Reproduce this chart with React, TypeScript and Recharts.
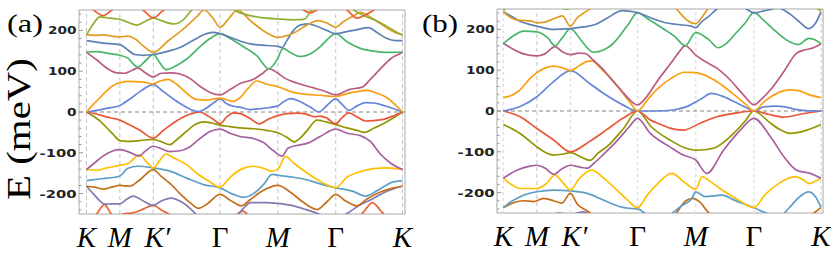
import React from 'react';
import { LineChart, Line, XAxis, YAxis, ReferenceLine, ReferenceArea } from 'recharts';

type Pt = [number, number];

// k-path positions of the high-symmetry points (path length, |ΓK| = 1)
const kTicks = [0, 0.5, 1, 2, 2.866, 3.732, 4.732];
const kLabels = ['K', 'M', 'K′', 'Γ', 'M', 'Γ', 'K'];
const eTicks = [-240, -220, -200, -180, -160, -140, -120, -100, -80, -60, -40, -20, 0, 20, 40, 60, 80, 100, 120, 140, 160, 180, 200, 220, 240];

// Mathematica default palette, band n uses palette[(n - 1) % 15]
const palette = ['#5E81B5', '#E19C24', '#8FB032', '#EB6235', '#8778B3', '#C56E1A', '#5D9EC7', '#FFBF00', '#A5609D', '#929600', '#E95536', '#6685D9', '#F89F13', '#BC5B80', '#47B66B'];

// ---- panel (a) bands, [k, E (meV)] ----
const a4: Pt[] = [[0, -275], [0.15, -250], [0.27, -227], [0.38, -252], [0.45, -258], [0.55, -250], [0.7, -247], [0.85, -238], [1.0, -229], [1.12, -240], [1.25, -252], [1.4, -270], [1.7, -285], [2.1, -270], [2.2, -258], [2.34, -243], [2.45, -258], [2.7, -285], [3.5, -290], [4.0, -270], [4.15, -245], [4.28, -222], [4.42, -245], [4.55, -265], [4.732, -275]];
const a5: Pt[] = [[0, -182], [0.1, -200], [0.2, -218], [0.27, -226], [0.38, -225], [0.5, -225], [0.6, -214], [0.7, -206], [0.85, -218], [1.0, -229], [1.12, -218], [1.27, -211], [1.42, -220], [1.55, -236], [1.65, -252], [1.8, -268], [2.1, -272], [2.25, -255], [2.35, -236], [2.46, -222], [2.7, -222], [2.866, -224], [3.1, -230], [3.3, -240], [3.48, -250], [3.62, -262], [3.75, -262], [3.9, -249], [4.05, -232], [4.28, -213], [4.45, -198], [4.6, -188], [4.732, -182]];
const a6: Pt[] = [[0, -182], [0.12, -184], [0.25, -189], [0.38, -184], [0.5, -180], [0.65, -182], [0.8, -166], [1.0, -141], [1.12, -158], [1.25, -175], [1.4, -200], [1.55, -222], [1.68, -236], [1.8, -226], [2.0, -202], [2.15, -216], [2.32, -230], [2.45, -215], [2.65, -192], [2.866, -180], [3.05, -196], [3.25, -222], [3.45, -239], [3.6, -220], [3.732, -202], [3.88, -218], [4.05, -230], [4.2, -213], [4.4, -196], [4.6, -186], [4.732, -182]];
const a7: Pt[] = [[0, -168], [0.25, -163], [0.42, -160], [0.5, -157], [0.62, -138], [0.77, -133], [1.0, -137], [1.25, -145], [1.5, -162], [1.75, -178], [2.0, -186], [2.2, -202], [2.36, -209], [2.5, -200], [2.65, -178], [2.78, -153], [2.9, -156], [3.1, -160], [3.3, -166], [3.5, -176], [3.732, -186], [3.98, -194], [4.18, -206], [4.38, -190], [4.58, -172], [4.732, -168]];
const a8: Pt[] = [[0, -141], [0.15, -143], [0.3, -137], [0.5, -131], [0.64, -125], [0.79, -105], [0.9, -122], [1.0, -137], [1.1, -118], [1.19, -103], [1.3, -112], [1.5, -129], [1.65, -150], [1.82, -168], [2.0, -184], [2.15, -160], [2.32, -140], [2.49, -133], [2.65, -138], [2.76, -145], [2.866, -140], [2.98, -109], [3.1, -125], [3.3, -149], [3.5, -170], [3.732, -185], [3.9, -160], [4.1, -146], [4.3, -139], [4.5, -137], [4.732, -141]];
const a9: Pt[] = [[0, -141], [0.12, -125], [0.25, -108], [0.4, -95], [0.5, -92], [0.62, -97], [0.79, -108], [0.88, -96], [1.0, -84], [1.12, -90], [1.25, -97], [1.4, -95], [1.55, -85], [1.7, -65], [1.85, -48], [2.0, -42], [2.15, -52], [2.3, -60], [2.5, -65], [2.65, -75], [2.8, -95], [2.93, -108], [3.02, -88], [3.15, -82], [3.3, -77], [3.5, -60], [3.732, -42], [3.9, -52], [4.1, -58], [4.25, -72], [4.4, -103], [4.55, -125], [4.732, -141]];
const a10: Pt[] = [[0, 0], [0.1, -10], [0.2, -22], [0.3, -38], [0.4, -55], [0.5, -70], [0.62, -72], [0.8, -70], [1.0, -67], [1.12, -73], [1.25, -80], [1.35, -68], [1.5, -47], [1.62, -31], [1.75, -24], [1.88, -27], [2.0, -32], [2.15, -36], [2.3, -39], [2.5, -41], [2.7, -45], [2.866, -51], [3.0, -62], [3.11, -73], [3.2, -64], [3.32, -42], [3.45, -20], [3.6, -25], [3.732, -31], [3.9, -39], [4.05, -45], [4.16, -50], [4.3, -40], [4.45, -28], [4.6, -14], [4.732, 0]];
const a11: Pt[] = [[0, 0], [0.15, -5], [0.3, -12], [0.5, -20], [0.65, -32], [0.8, -45], [1.0, -64], [1.15, -45], [1.3, -27], [1.45, -12], [1.6, -3], [1.7, 0], [1.8, -8], [1.9, -18], [2.0, -29], [2.1, -12], [2.2, -2], [2.3, -4], [2.44, -15], [2.59, -29], [2.72, -18], [2.866, -9], [3.0, -4], [3.15, -3], [3.3, -6], [3.42, -12], [3.5, -10], [3.6, -15], [3.732, -29], [3.82, -15], [3.93, -2], [4.05, -12], [4.18, -22], [4.3, -21], [4.45, -18], [4.6, -9], [4.732, 0]];
const a12: Pt[] = [[0, 0], [0.15, 4], [0.3, 9], [0.5, 16], [0.65, 32], [0.8, 50], [1.0, 67], [1.15, 50], [1.3, 32], [1.45, 16], [1.58, 5], [1.68, 1], [1.8, 10], [1.9, 22], [2.0, 32], [2.1, 20], [2.2, 14], [2.3, 12], [2.44, 6], [2.6, 8], [2.75, 11], [2.866, 15], [2.95, 25], [3.06, 33], [3.2, 25], [3.35, 12], [3.48, 0], [3.6, 16], [3.732, 32], [3.82, 20], [3.93, 4], [4.05, 15], [4.18, 23], [4.3, 22], [4.45, 16], [4.6, 8], [4.732, 0]];
const a13: Pt[] = [[0, 0], [0.1, 18], [0.2, 35], [0.3, 52], [0.4, 65], [0.5, 72], [0.65, 75], [0.85, 73], [1.0, 69], [1.1, 76], [1.22, 80], [1.35, 68], [1.5, 46], [1.64, 31], [1.79, 29], [1.9, 32], [2.0, 34], [2.1, 30], [2.2, 26], [2.3, 35], [2.42, 58], [2.55, 76], [2.7, 68], [2.866, 62], [3.1, 48], [3.3, 43], [3.5, 41], [3.732, 38], [3.9, 45], [4.05, 50], [4.2, 53], [4.35, 46], [4.5, 35], [4.62, 18], [4.732, 0]];
const a14: Pt[] = [[0, 146], [0.15, 128], [0.3, 108], [0.45, 96], [0.57, 95], [0.67, 101], [0.77, 108], [0.88, 96], [1.0, 86], [1.12, 95], [1.27, 96], [1.4, 93], [1.55, 82], [1.7, 63], [1.85, 48], [2.0, 42], [2.15, 55], [2.3, 70], [2.5, 80], [2.64, 95], [2.73, 106], [2.866, 95], [2.97, 83], [3.15, 71], [3.4, 59], [3.55, 52], [3.732, 42], [3.93, 55], [4.13, 61], [4.25, 80], [4.39, 104], [4.55, 130], [4.732, 146]];
const a15: Pt[] = [[0, 147], [0.15, 148], [0.35, 143], [0.5, 139], [0.62, 132], [0.7, 118], [0.77, 110], [0.88, 125], [1.0, 141], [1.1, 120], [1.19, 104], [1.35, 114], [1.5, 130], [1.7, 160], [1.85, 180], [2.0, 192], [2.15, 180], [2.35, 160], [2.55, 138], [2.73, 106], [2.866, 132], [2.94, 156], [3.05, 146], [3.2, 136], [3.35, 142], [3.5, 160], [3.62, 180], [3.732, 192], [3.9, 172], [4.1, 156], [4.3, 149], [4.5, 146], [4.732, 147]];
const a16: Pt[] = [[0, 175], [0.25, 169], [0.5, 165], [0.62, 152], [0.72, 141], [0.85, 139], [1.0, 141], [1.2, 148], [1.4, 158], [1.6, 176], [1.8, 192], [1.9, 195], [2.0, 192], [2.2, 180], [2.45, 167], [2.7, 163], [2.866, 161], [2.93, 158], [3.0, 175], [3.1, 200], [3.2, 213], [3.33, 216], [3.45, 210], [3.6, 200], [3.732, 192], [3.9, 197], [4.05, 202], [4.22, 207], [4.35, 195], [4.5, 180], [4.62, 175], [4.732, 175]];
const a17: Pt[] = [[0, 189], [0.12, 188], [0.25, 189], [0.38, 186], [0.5, 184], [0.62, 186], [0.72, 180], [0.85, 162], [1.0, 146], [1.22, 174], [1.47, 206], [1.66, 235], [1.76, 250], [1.89, 231], [2.0, 208], [2.14, 231], [2.26, 250], [2.46, 223], [2.66, 198], [2.866, 183], [3.11, 194], [3.31, 214], [3.46, 224], [3.6, 218], [3.732, 208], [3.85, 222], [4.0, 236], [4.1, 244], [4.2, 238], [4.35, 222], [4.5, 206], [4.62, 195], [4.732, 189]];
const a18: Pt[] = [[0, 189], [0.1, 215], [0.2, 233], [0.3, 231], [0.42, 229], [0.5, 227], [0.62, 220], [0.75, 213], [0.88, 222], [1.0, 230], [1.12, 224], [1.3, 216], [1.45, 226], [1.55, 245], [1.65, 265], [1.85, 285], [2.0, 290], [2.1, 270], [2.21, 251], [2.4, 238], [2.6, 232], [2.866, 228], [3.1, 226], [3.26, 227], [3.35, 245], [3.45, 262], [3.7, 275], [3.95, 255], [4.1, 240], [4.35, 223], [4.55, 205], [4.65, 195], [4.732, 189]];
const a19: Pt[] = [[0, 268], [0.12, 248], [0.25, 236], [0.38, 250], [0.5, 265], [0.75, 262], [0.88, 245], [1.0, 231], [1.12, 245], [1.25, 262], [1.5, 280], [3.0, 275], [3.2, 255], [3.35, 243], [3.5, 255], [3.7, 268], [3.9, 250], [4.05, 230], [4.2, 240], [4.35, 255], [4.6, 275]];

// ---- panel (b) bands ----
const b5: Pt[] = [[0, -262], [0.4, -270], [0.7, -262], [0.82, -250], [0.92, -253], [1.0, -255], [1.1, -250], [1.2, -247], [1.3, -255], [1.45, -270]];
const b6: Pt[] = [[0, -237], [0.15, -225], [0.3, -220], [0.45, -222], [0.6, -214], [0.75, -220], [0.87, -226], [1.0, -202], [1.1, -228], [1.25, -245], [1.4, -262], [2.0, -280], [2.5, -265], [2.62, -240], [2.72, -220], [2.82, -214], [2.92, -222], [3.05, -248], [3.2, -270], [4.4, -270], [4.58, -255], [4.732, -237]];
const b7: Pt[] = [[0, -237], [0.12, -222], [0.25, -210], [0.5, -198], [0.75, -194], [1.0, -196], [1.25, -202], [1.5, -219], [1.75, -235], [1.9, -239], [2.0, -240], [2.15, -255], [2.35, -268], [2.51, -251], [2.66, -232], [2.81, -214], [2.866, -198], [3.01, -210], [3.26, -206], [3.45, -219], [3.732, -237], [4.0, -255], [4.12, -258], [4.25, -239], [4.4, -212], [4.55, -198], [4.65, -210], [4.732, -236]];
const b8: Pt[] = [[0, -165], [0.12, -180], [0.25, -190], [0.5, -190], [0.64, -178], [0.77, -157], [0.9, -178], [1.0, -194], [1.12, -168], [1.32, -145], [1.5, -165], [1.7, -195], [1.85, -218], [2.0, -237], [2.15, -205], [2.3, -178], [2.51, -153], [2.7, -175], [2.866, -192], [2.96, -161], [3.1, -175], [3.3, -198], [3.5, -218], [3.732, -237], [3.9, -205], [4.1, -178], [4.35, -161], [4.48, -170], [4.56, -178], [4.65, -172], [4.732, -165]];
const b9: Pt[] = [[0, -165], [0.2, -145], [0.4, -135], [0.5, -133], [0.62, -140], [0.75, -155], [0.87, -142], [1.0, -133], [1.15, -138], [1.25, -140], [1.35, -128], [1.5, -105], [1.7, -72], [1.88, -38], [2.0, -18], [2.19, -55], [2.48, -88], [2.68, -108], [2.866, -120], [3.03, -153], [3.28, -96], [3.53, -47], [3.732, -18], [3.98, -63], [4.18, -112], [4.37, -145], [4.57, -153], [4.732, -165]];
const b10: Pt[] = [[0, -33], [0.25, -55], [0.5, -88], [0.62, -101], [0.75, -108], [0.88, -106], [1.0, -102], [1.15, -112], [1.29, -121], [1.42, -102], [1.54, -88], [1.79, -43], [2.0, 0], [2.2, -38], [2.48, -71], [2.7, -90], [2.866, -96], [3.0, -95], [3.18, -88], [3.43, -55], [3.6, -25], [3.732, 0], [3.98, -30], [4.15, -48], [4.28, -55], [4.52, -47], [4.732, -33]];
const b11: Pt[] = [[0, 0], [0.25, -14], [0.5, -43], [0.75, -71], [1.0, -100], [1.28, -75], [1.53, -47], [1.78, -18], [2.0, 0], [2.19, -22], [2.33, -32], [2.48, -42], [2.68, -47], [2.93, -30], [3.18, -14], [3.43, -6], [3.732, 0], [3.95, -8], [4.18, -15], [4.42, -8], [4.732, 0]];
const b12: Pt[] = [[0, 0], [0.25, 11], [0.5, 35], [0.75, 72], [1.0, 99], [1.28, 68], [1.53, 39], [1.78, 15], [2.0, 0], [2.3, 0], [2.55, 3], [2.75, 12], [2.95, 30], [3.1, 43], [3.25, 37], [3.45, 22], [3.6, 10], [3.732, 0], [3.88, 10], [4.05, 12], [4.2, 10], [4.35, 4], [4.5, 1], [4.732, 0]];
const b13: Pt[] = [[0, 33], [0.12, 38], [0.25, 52], [0.4, 80], [0.5, 94], [0.62, 105], [0.75, 110], [0.88, 106], [1.0, 99], [1.12, 110], [1.24, 121], [1.32, 123], [1.45, 105], [1.6, 80], [1.75, 50], [1.9, 18], [2.0, 0], [2.15, 28], [2.3, 55], [2.5, 80], [2.7, 95], [2.866, 94], [3.0, 88], [3.2, 70], [3.4, 45], [3.6, 18], [3.732, 0], [3.9, 25], [4.1, 45], [4.25, 52], [4.4, 50], [4.55, 40], [4.732, 33]];
const b14: Pt[] = [[0, 166], [0.14, 152], [0.3, 140], [0.5, 135], [0.62, 140], [0.77, 158], [0.88, 145], [1.0, 138], [1.12, 142], [1.22, 141], [1.32, 128], [1.45, 108], [1.6, 80], [1.75, 52], [1.88, 28], [2.0, 15], [2.12, 32], [2.3, 75], [2.5, 118], [2.62, 145], [2.71, 160], [2.866, 137], [3.0, 122], [3.18, 105], [3.38, 76], [3.58, 39], [3.732, 15], [3.85, 30], [3.98, 52], [4.18, 97], [4.37, 142], [4.5, 150], [4.62, 155], [4.732, 165]];
const b15: Pt[] = [[0, 165], [0.14, 183], [0.3, 196], [0.5, 194], [0.67, 178], [0.77, 160], [0.88, 180], [1.0, 202], [1.17, 171], [1.34, 144], [1.5, 150], [1.62, 163], [1.86, 212], [2.0, 241], [2.15, 226], [2.36, 204], [2.55, 183], [2.71, 160], [2.866, 192], [3.06, 175], [3.2, 155], [3.32, 165], [3.45, 188], [3.6, 215], [3.732, 241], [3.88, 222], [4.0, 204], [4.25, 171], [4.4, 163], [4.55, 178], [4.62, 176], [4.732, 165]];
const b16: Pt[] = [[0, 243], [0.12, 232], [0.25, 220], [0.5, 208], [0.75, 200], [1.0, 202], [1.2, 206], [1.37, 212], [1.55, 228], [1.77, 246], [1.9, 244], [2.0, 241], [2.2, 228], [2.4, 217], [2.6, 212], [2.8, 208], [2.866, 204], [2.95, 218], [3.06, 232], [3.2, 252], [3.4, 262], [3.6, 252], [3.732, 241], [3.9, 246], [4.1, 252], [4.25, 240], [4.4, 220], [4.55, 202], [4.65, 215], [4.732, 243]];
const b17: Pt[] = [[0, 243], [0.12, 228], [0.25, 222], [0.4, 221], [0.5, 216], [0.62, 218], [0.75, 226], [0.88, 233], [1.0, 208], [1.1, 228], [1.17, 237], [1.32, 253], [1.5, 270], [2.3, 275], [2.56, 253], [2.7, 228], [2.76, 220], [2.866, 214], [2.95, 228], [3.06, 253], [3.2, 275], [4.4, 275], [4.6, 260], [4.732, 245]];
const b18: Pt[] = [[0, 247], [0.15, 262], [0.5, 272], [0.8, 260], [0.92, 250], [1.0, 252], [1.1, 262], [1.3, 275], [4.4, 275], [4.6, 258], [4.732, 247]];

const bandsA: [number, Pt[]][] = [[4, a4], [5, a5], [6, a6], [7, a7], [8, a8], [9, a9], [10, a10], [11, a11], [12, a12], [13, a13], [14, a14], [15, a15], [16, a16], [17, a17], [18, a18], [19, a19]];
const bandsB: [number, Pt[]][] = [[5, b5], [6, b6], [7, b7], [8, b8], [9, b9], [10, b10], [11, b11], [12, b12], [13, b13], [14, b14], [15, b15], [16, b16], [17, b17], [18, b18]];

const YTick = ({ x, y, payload }: any) => {
  const v = payload.value;
  const major = v % 100 === 0;
  const s = String(v);
  const w = s.replace('-', '').length * 9.5 + (v < 0 ? 8.5 : 0);
  return (
    <g>
      <line x1={x} x2={x + (major ? 4 : 2.5)} y1={y} y2={y} stroke="#9a9a9a" strokeWidth={1} />
      {major && (
        <text x={x - 2.5} y={y + 4} textAnchor="end" fontFamily="DejaVu Sans" fontWeight="bold" fontSize={11} fill="#222"
          textLength={w} lengthAdjust="spacingAndGlyphs">{s}</text>
      )}
    </g>
  );
};

const XTick = ({ x, y, payload }: any) => {
  const i = kTicks.indexOf(payload.value);
  const lab = kLabels[i];
  return (
    <text x={x + (lab === 'K′' ? 4 : 0)} y={y + 33} textAnchor="middle" fontFamily="Liberation Serif" fontSize={29}
      fontStyle={lab === 'Γ' ? 'normal' : 'italic'} fill="#000">{lab}</text>
  );
};

function Panel({ bands, domain, top, left, yw, right, darkM }: { bands: [number, Pt[]][]; domain: [number, number]; top: number; left: number; yw: number; right: number; darkM: boolean }) {
  return (
    <div style={{ position: 'absolute', left, top: 0 }}>
      <LineChart width={yw + 326 + right} height={254} margin={{ top, right, bottom: 0, left: 0 }}>
        <XAxis type="number" dataKey="k" domain={domain} allowDataOverflow ticks={kTicks} interval={0}
          tick={XTick} tickSize={0} tickMargin={0} axisLine={false} tickLine={false} height={254 - top - 204} />
        <YAxis type="number" domain={[-250, 250]} allowDataOverflow ticks={eTicks} interval={0}
          tick={YTick} tickSize={0} tickMargin={0} axisLine={false} tickLine={false} width={yw} />
        {kTicks.map((k, i) => {
          const strong = !darkM || i === 1;
          return (
            <ReferenceLine key={'g' + i} x={k} stroke={strong ? '#c4c4c4' : '#e2e2e2'}
              strokeWidth={strong ? 1 : 1.6} strokeDasharray={strong ? '4 3' : '3 3'} />
          );
        })}
        <ReferenceLine y={0} stroke="#777" strokeDasharray="4 3" strokeWidth={0.9} />
        {bands.map(([n, pts]) => (
          <Line key={n} data={pts.map(([k, e]) => ({ k, e }))} dataKey="e" type="monotone" stroke={palette[(n - 1) % 15]}
            strokeWidth={1.7} dot={false} activeDot={false} isAnimationActive={false} />
        ))}
        <ReferenceArea x1={domain[0]} x2={domain[1]} y1={-250} y2={250} fill="none" fillOpacity={0} stroke="#a8a8a8" strokeWidth={1} />
      </LineChart>
    </div>
  );
}

export default function App() {
  return (
    <div style={{ position: 'absolute', left: 0, top: 0, width: 831, height: 254, background: '#fff', overflow: 'hidden' }}>
      <Panel bands={bandsA} domain={[-0.112, 4.769]} top={10} left={0} yw={79} right={9} darkM={false} />
      <Panel bands={bandsB} domain={[-0.094, 4.762]} top={9} left={415} yw={82} right={8} darkM={true} />
      <svg width={831} height={254} style={{ position: 'absolute', left: 0, top: 0, pointerEvents: 'none' }}>
        <text x={7} y={32} fontFamily="Liberation Serif" fontSize={26} textLength={36} lengthAdjust="spacingAndGlyphs">(a)</text>
        <text x={422} y={32} fontFamily="Liberation Serif" fontSize={26} textLength={36} lengthAdjust="spacingAndGlyphs">(b)</text>
        <text transform="translate(30,129) rotate(-90)" textAnchor="middle" fontFamily="Liberation Serif" fontSize={33}
          textLength={142} lengthAdjust="spacingAndGlyphs">E (meV)</text>
      </svg>
    </div>
  );
}
